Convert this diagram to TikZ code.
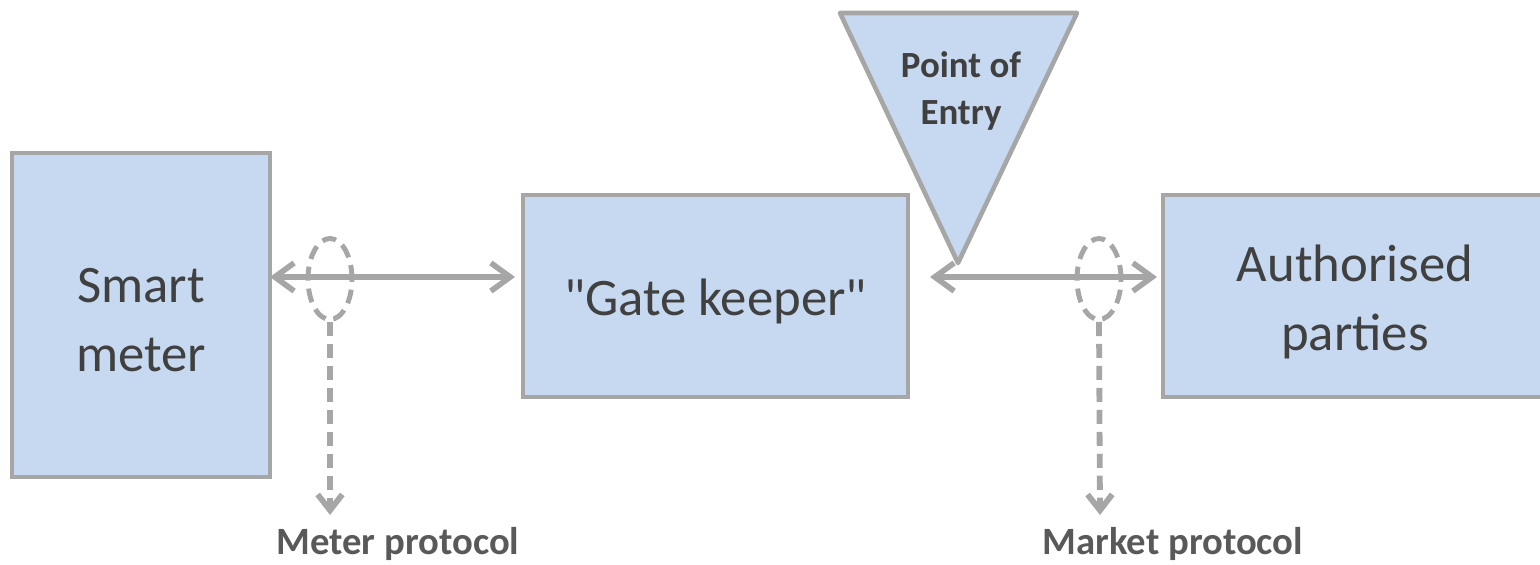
\documentclass[tikz,border=0pt]{standalone}
\usepackage{fontspec}
\setmainfont{Carlito}[Ligatures=TeXOff]
\usetikzlibrary{arrows.meta,shapes.geometric}

\definecolor{edge}{HTML}{A6A6A6}
\definecolor{boxfill}{HTML}{C6D9F0}
\definecolor{textdark}{HTML}{404040}
\definecolor{textgray}{HTML}{595959}

\tikzset{
  box/.style={draw=edge, fill=boxfill, line width=2.3pt, inner sep=0pt},
  boxtext/.style={text=textdark, align=center, font=\fontsize{30}{39}\selectfont},
  link/.style={draw=edge, line width=3.2pt, {Straight Barb[length=11pt,width=16pt]}-{Straight Barb[length=11pt,width=16pt]}},
  ring/.style={draw=edge, line width=2.8pt, dash pattern=on 8pt off 4.5pt},
  drop/.style={draw=edge, line width=3.3pt, dash pattern=on 8pt off 4.5pt, -{Straight Barb[length=9pt,width=14pt]}},
  proto/.style={text=textgray, font=\fontsize{22}{26}\selectfont\bfseries, anchor=base}
}

\begin{document}
\begin{tikzpicture}
\useasboundingbox (0,0) rectangle (30.8,11.28);
\clip (0,0) rectangle (30.8,11.28);

\node [box, minimum width=5.16cm, minimum height=6.48cm] (meter) at (2.82,4.98) {};
\node [boxtext] (metertext) at (2.82,4.88) {Smart\\meter};

\node [box, minimum width=7.7cm, minimum height=4.04cm] (gate) at (14.31,5.36) {};
\node [boxtext] (gatetext) at (14.31,5.26) {"Gate keeper"};

\node [box, minimum width=7.64cm, minimum height=4.04cm] (auth) at (27.08,5.36) {};
\node [boxtext] (authtext) at (27.1,5.24) {Authorised\\parties};

% point of entry
\draw [draw=edge, fill=boxfill, line width=2.6pt, line join=round] (16.8,11.02) -- (21.54,11.02) -- (19.16,6.02) -- cycle;
\node [text=textdark, align=center, font=\fontsize{21}{27}\selectfont\bfseries] (entry) at (19.22,9.46) {Point of\\Entry};

\coordinate (a1) at (5.40,5.74);
\coordinate (b1) at (10.30,5.74);
\coordinate (a2) at (18.60,5.74);
\coordinate (b2) at (23.14,5.74);

\draw [link] (a1) -- (b1);
\draw [link] (a2) -- (b2);

\node [ring, ellipse, minimum width=0.88cm, minimum height=1.62cm, inner sep=0pt] (ring1) at (6.6,5.7) {};
\node [ring, ellipse, minimum width=0.88cm, minimum height=1.62cm, inner sep=0pt] (ring2) at (21.98,5.7) {};

\node [proto] (mproto) at (7.96,0.19) {Meter protocol};
\node [proto] (kproto) at (23.46,0.19) {Market protocol};

\draw [drop] (ring1.south) -- (6.6,0.98);
\draw [drop] (ring2.south) -- (22.0,0.98);

\end{tikzpicture}
\end{document}
